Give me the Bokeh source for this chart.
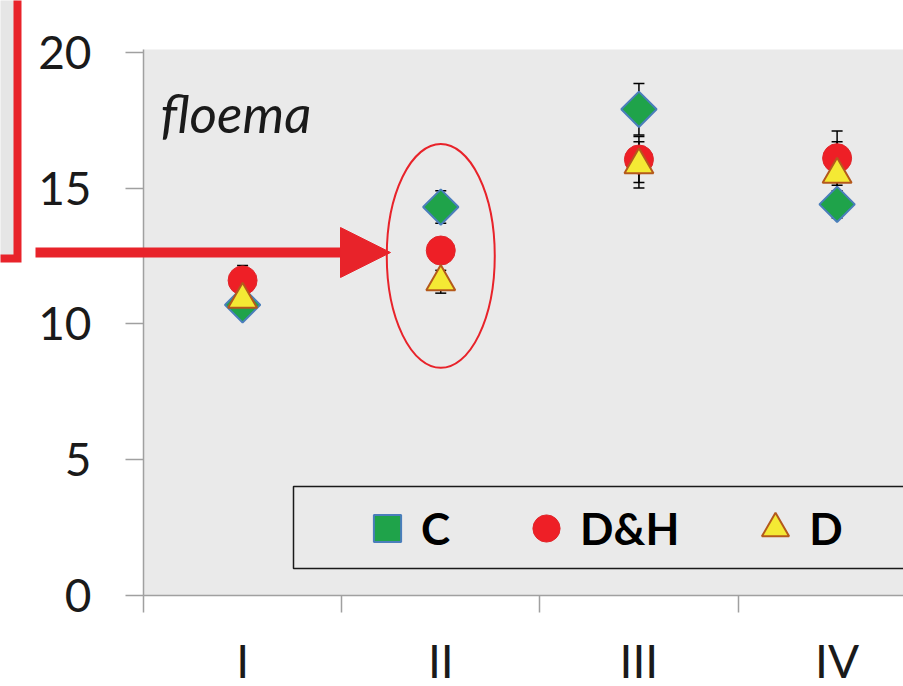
import math
from bokeh.plotting import figure
from bokeh.models import (ColumnDataSource, Range1d, FixedTicker, Whisker, TeeHead,
                          Legend, LegendItem, Label, Arrow, NormalHead, BoxAnnotation,
                          GridBox, Column)
from bokeh.embed import file_html
from bokeh.resources import INLINE

categories = ["I", "II", "III", "IV"]
c_values = [10.7, 14.3, 17.9, 14.4]
c_errors = [0.3, 0.6, 0.95, 0.5]
dh_values = [11.6, 12.7, 16.05, 16.1]
dh_errors = [0.55, 0.3, 0.85, 1.0]
d_values = [10.9, 11.55, 15.85, 15.5]
d_errors = [0.3, 0.42, 0.85, 1.2]
y_ticks = [0, 5, 10, 15, 20]
panel_label = "floema"
highlight_category = "II"
highlight_y = 12.5

FONT = "Lato"
RED = "#e8232a"
xs = list(range(len(categories)))

p = figure(width=903, height=686, frame_width=760, frame_height=546,
           min_border_left=143, min_border_right=0, min_border_top=49, min_border_bottom=91,
           x_range=Range1d(-0.5, 3.335), y_range=Range1d(0, 20.1),
           output_backend="svg", toolbar_location=None)
p.background_fill_color = "#eaeaea"
p.border_fill_color = "white"
p.outline_line_color = None
p.xgrid.visible = False
p.ygrid.visible = False

# axes
p.yaxis.ticker = FixedTicker(ticks=y_ticks, minor_ticks=[])
p.yaxis.major_tick_out = 18
p.yaxis.major_tick_in = 0
p.yaxis.axis_line_color = "#a0a0a0"
p.yaxis.major_tick_line_color = "#a0a0a0"
p.yaxis.axis_line_width = 1.5
p.yaxis.major_tick_line_width = 1.5
p.yaxis.major_label_text_font = FONT
p.yaxis.major_label_text_font_size = "46px"
p.yaxis.major_label_text_color = "#1a1a1a"
p.yaxis.major_label_standoff = 34

p.xaxis.ticker = FixedTicker(ticks=xs, minor_ticks=[x - 0.5 for x in xs])
p.xaxis.major_label_overrides = {i: c for i, c in enumerate(categories)}
p.xaxis.major_tick_out = 0
p.xaxis.major_tick_in = 0
p.xaxis.minor_tick_out = 17
p.xaxis.minor_tick_in = 0
p.xaxis.minor_tick_line_color = "#a0a0a0"
p.xaxis.minor_tick_line_width = 1.5
p.xaxis.axis_line_color = "#a0a0a0"
p.xaxis.axis_line_width = 1.5
p.xaxis.major_label_text_font = FONT
p.xaxis.major_label_text_font_size = "46px"
p.xaxis.major_label_text_color = "#1a1a1a"
p.xaxis.major_label_standoff = 20

# error bars
def add_err(vals, errs):
    src = ColumnDataSource(dict(x=xs, upper=[v + e for v, e in zip(vals, errs)],
                                lower=[v - e for v, e in zip(vals, errs)]))
    w = Whisker(source=src, base="x", upper="upper", lower="lower", dimension="height",
                line_color="black", line_width=1.5,
                upper_head=TeeHead(size=11, line_color="black", line_width=1.5),
                lower_head=TeeHead(size=11, line_color="black", line_width=1.5))
    p.add_layout(w)

add_err(c_values, c_errors)
add_err(dh_values, dh_errors)
add_err(d_values, d_errors)

r_c = p.scatter(xs, c_values, marker="square", angle=math.pi / 4, size=25,
                fill_color="#1fa34a", line_color="#4a7ebb", line_width=2)
r_dh = p.scatter(xs, dh_values, marker="circle", size=29,
                 fill_color="#ee1f26", line_color="#e0262b", line_width=1)
r_d = p.scatter(xs, d_values, marker="triangle", size=29,
                fill_color="#f4e934", line_color="#b4591c", line_width=2)

# legend frame and legend
p.add_layout(BoxAnnotation(left=293, right=1100, top=486, bottom=568,
                           left_units="canvas", right_units="canvas",
                           top_units="canvas", bottom_units="canvas",
                           fill_alpha=0, line_color="#1a1a1a", line_alpha=1, line_width=1.5))
legend = Legend(items=[LegendItem(label="C", renderers=[r_c]),
                       LegendItem(label="D&H", renderers=[r_dh]),
                       LegendItem(label="D", renderers=[r_d])],
                orientation="horizontal", location=(210, 33),
                glyph_width=68, glyph_height=68, label_standoff=-11, spacing=62,
                padding=0, margin=0, border_line_alpha=0, background_fill_alpha=0,
                label_text_font=FONT, label_text_font_style="bold",
                label_text_font_size="44px", label_text_color="black")
p.add_layout(legend)

p.add_layout(Label(x=160, y=112, x_units="canvas", y_units="canvas", text=panel_label,
                   text_font=FONT, text_font_style="italic", text_font_size="53px",
                   text_color="#1a1a1a", text_baseline="alphabetic"))

# highlight ellipse around category II
hx = categories.index(highlight_category)
p.ellipse(x=[hx], y=[highlight_y], width=108, height=224, width_units="screen",
          height_units="screen", fill_color=None, line_color=RED, line_width=2)

# transparent overlay figure (canvas pixel coordinates) for the red arrow and box fragment
q = figure(width=903, height=686, min_border=0, x_range=Range1d(0, 903), y_range=Range1d(686, 0),
           x_axis_type=None, y_axis_type=None, output_backend="svg", toolbar_location=None)
q.background_fill_alpha = 0
q.border_fill_alpha = 0
q.outline_line_color = None
q.xgrid.visible = False
q.ygrid.visible = False
q.quad(left=[-5], right=[17], top=[-5], bottom=[258], fill_color="#e6e6e6", line_color=None)
q.line(x=[17, 17, -10], y=[-10, 258, 258], line_color=RED, line_width=8, line_join="miter")
q.add_layout(Arrow(x_start=35, y_start=252, x_end=390, y_end=252,
                   line_color=RED, line_width=10,
                   end=NormalHead(size=50, fill_color=RED, line_color=RED, line_width=1)))

layout = GridBox(children=[(Column(children=[p]), 0, 0), (Column(children=[q]), 0, 0)])
open("out.html", "w").write(file_html(layout, INLINE))
